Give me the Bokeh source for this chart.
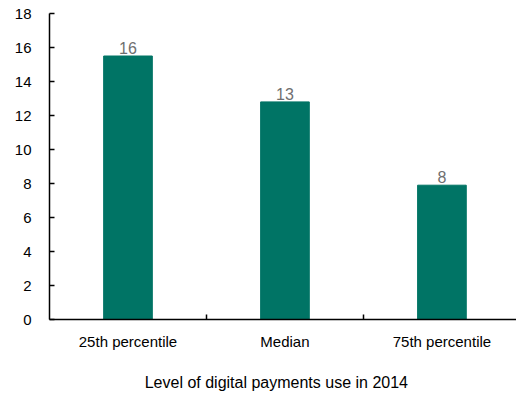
from bokeh.plotting import figure
from bokeh.models import ColumnDataSource, FixedTicker, Range1d, LabelSet
from bokeh.core.properties import value
from bokeh.embed import file_html
from bokeh.resources import INLINE

categories = ["25th percentile", "Median", "75th percentile"]
values = [15.5, 12.8, 7.9]
labels = ["16", "13", "8"]
y_ticks = [0, 2, 4, 6, 8, 10, 12, 14, 16, 18]

FONT = "Liberation Sans"
BAR = "#007465"

xpos = [i + 0.5 for i in range(len(categories))]
src = ColumnDataSource(dict(x=xpos, top=values, lab=labels, cat=categories))

p = figure(width=516, height=397, output_backend="svg", toolbar_location=None,
           x_range=Range1d(0, 2.975), y_range=Range1d(0, 18),
           min_border_left=49, min_border_right=0, min_border_top=13, min_border_bottom=78)
p.outline_line_color = None
p.xgrid.grid_line_color = None
p.ygrid.grid_line_color = None

p.vbar(x="x", top="top", width=0.31, source=src, fill_color=BAR, line_color=BAR)

lbl = LabelSet(x="x", y="top", text="lab", source=src, text_align="center",
               text_baseline="bottom", y_offset=2, text_font=value(FONT),
               text_font_size="16px", text_color="#6f6f6f")
p.add_layout(lbl)

xa = p.xaxis[0]
xa.ticker = FixedTicker(ticks=xpos, minor_ticks=[float(i) for i in range(1, len(categories))])
xa.major_label_overrides = {x: c for x, c in zip(xpos, categories)}
xa.major_tick_in = 0
xa.major_tick_out = 0
xa.minor_tick_in = 5
xa.minor_tick_out = 0
xa.minor_tick_line_color = "black"
xa.minor_tick_line_width = 1.5
xa.axis_line_width = 1.5
xa.axis_line_color = "black"
xa.major_label_text_font = FONT
xa.major_label_text_font_size = "15px"
xa.major_label_text_color = "black"
xa.major_label_standoff = 13
xa.axis_label = "Level of digital  payments  use  in 2014"
xa.axis_label_text_font = FONT
xa.axis_label_text_font_size = "16px"
xa.axis_label_text_font_style = "normal"
xa.axis_label_text_color = "black"
xa.axis_label_standoff = 21

ya = p.yaxis[0]
ya.ticker = FixedTicker(ticks=y_ticks)
ya.major_tick_in = 5
ya.major_tick_out = 0
ya.minor_tick_line_color = None
ya.major_tick_line_width = 1.5
ya.major_tick_line_color = "black"
ya.axis_line_width = 1.5
ya.axis_line_color = "black"
ya.major_label_text_font = FONT
ya.major_label_text_font_size = "15px"
ya.major_label_text_color = "black"
ya.major_label_standoff = 18

open("out.html", "w").write(file_html(p, INLINE))
